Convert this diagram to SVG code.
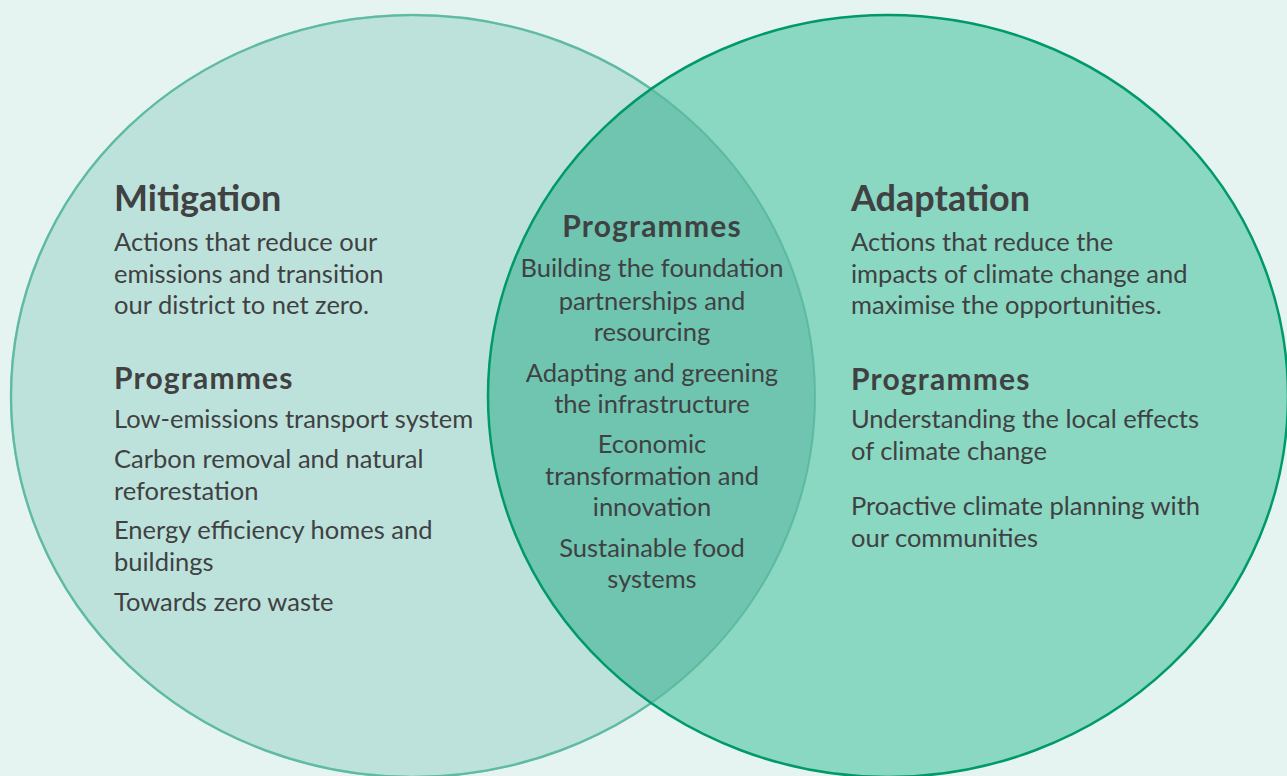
<svg xmlns="http://www.w3.org/2000/svg" width="1287" height="776" viewBox="0 0 1287 776">
  <style>
    .t { font-family: Lato, "Liberation Sans", sans-serif; fill: #3f4142; font-size: 25.5px; }
    .h1 { font-family: Lato, "Liberation Sans", sans-serif; fill: #3f4142; font-size: 36px; font-weight: bold; }
    .h2 { font-family: Lato, "Liberation Sans", sans-serif; fill: #3f4142; font-size: 30px; font-weight: bold; letter-spacing: 1.2px; }
    .c { text-anchor: middle; }
  </style>
  <defs>
    <clipPath id="leftClip">
      <ellipse cx="413" cy="396" rx="402" ry="381"/>
    </clipPath>
  </defs>
  <rect width="1287" height="776" fill="#e6f4f1"/>

  <g id="mitigation-circle">
    <ellipse cx="413" cy="396" rx="402" ry="381" fill="#bde2db" stroke="#80cbb9" stroke-width="2.5"/>
  </g>
  <g id="adaptation-circle">
    <ellipse cx="888" cy="396" rx="400" ry="381" fill="#8ad7c2"/>
  </g>
  <g id="overlap">
    <ellipse cx="888" cy="396" rx="400" ry="381" fill="#6fc5b0" clip-path="url(#leftClip)"/>
    <ellipse cx="413" cy="396" rx="402" ry="381" fill="none" stroke="#55b59b" stroke-width="2" stroke-opacity="0.8"/>
    <ellipse cx="888" cy="396" rx="400" ry="381" fill="none" stroke="#00996a" stroke-width="2.5"/>
  </g>
  <g id="connectors"/>

  <g id="mitigation-text">
    <text class="h1" x="114" y="211">Mitigation</text>
    <text class="t" x="114" y="251">Actions that reduce our</text>
    <text class="t" x="114" y="283">emissions and transition</text>
    <text class="t" x="114" y="314">our district to net zero.</text>
    <text class="h2" x="114" y="389">Programmes</text>
    <text class="t" x="114" y="428">Low-emissions transport system</text>
    <text class="t" x="114" y="468">Carbon removal and natural</text>
    <text class="t" x="114" y="500">reforestation</text>
    <text class="t" x="114" y="539">Energy efficiency homes and</text>
    <text class="t" x="114" y="571">buildings</text>
    <text class="t" x="114" y="611">Towards zero waste</text>
  </g>

  <g id="shared-text">
    <text class="h2 c" x="652" y="237">Programmes</text>
    <text class="t c" x="652" y="277">Building the foundation</text>
    <text class="t c" x="652" y="310">partnerships and</text>
    <text class="t c" x="652" y="341">resourcing</text>
    <text class="t c" x="652" y="382">Adapting and greening</text>
    <text class="t c" x="652" y="413">the infrastructure</text>
    <text class="t c" x="652" y="453">Economic</text>
    <text class="t c" x="652" y="485">transformation and</text>
    <text class="t c" x="652" y="516">innovation</text>
    <text class="t c" x="652" y="557">Sustainable food</text>
    <text class="t c" x="652" y="588">systems</text>
  </g>

  <g id="adaptation-text">
    <text class="h1" x="851" y="211">Adaptation</text>
    <text class="t" x="851" y="251">Actions that reduce the</text>
    <text class="t" x="851" y="283">impacts of climate change and</text>
    <text class="t" x="851" y="314">maximise the opportunities.</text>
    <text class="h2" x="851" y="390">Programmes</text>
    <text class="t" x="851" y="428">Understanding the local effects</text>
    <text class="t" x="851" y="460">of climate change</text>
    <text class="t" x="851" y="515">Proactive climate planning with</text>
    <text class="t" x="851" y="547">our communities</text>
  </g>
</svg>
